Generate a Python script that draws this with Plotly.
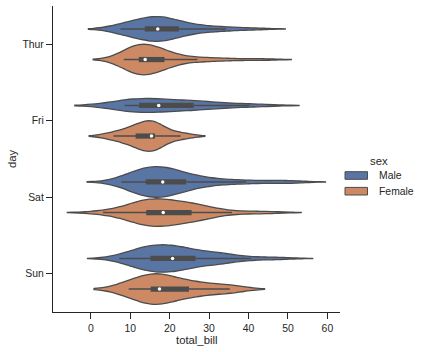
import numpy as np
import plotly.graph_objects as go

days = ["Thur", "Fri", "Sat", "Sun"]
sexes = ["Male", "Female"]

thur_male = [27.2, 22.76, 17.29, 19.44, 16.66, 32.68, 15.98, 13.03, 18.28, 24.71, 21.16,
             11.69, 14.26, 15.95, 8.52, 22.82, 19.08, 16.0, 34.3, 41.19, 9.78, 7.51,
             28.44, 15.48, 16.58, 7.56, 10.34, 13.51, 18.71, 20.53]
thur_female = [10.07, 34.83, 10.65, 12.43, 24.08, 13.42, 12.48, 29.8, 14.52, 11.38, 20.27,
               11.17, 12.26, 18.26, 8.51, 10.33, 14.15, 13.16, 17.47, 27.05, 16.43, 8.35,
               18.64, 11.87, 19.81, 43.11, 13.0, 12.74, 13.0, 16.4, 16.47, 18.78]
fri_male = [28.97, 22.49, 40.17, 27.28, 12.03, 21.01, 12.46, 12.16, 8.58, 13.42]
fri_female = [5.75, 16.32, 22.75, 11.35, 15.38, 13.42, 15.98, 16.27, 10.09]
sat_male = [20.65, 17.92, 39.42, 19.82, 17.81, 13.37, 12.69, 21.7, 9.55, 18.35, 17.78,
            24.06, 16.31, 18.69, 31.27, 16.04, 38.01, 11.24, 48.27, 20.29, 13.81, 11.02,
            18.29, 17.59, 20.08, 20.23, 15.01, 12.02, 10.51, 17.92, 15.36, 20.49, 25.21,
            18.24, 14.0, 50.81, 15.81, 26.59, 38.73, 24.27, 30.06, 25.89, 48.33, 28.15,
            11.59, 7.74, 20.45, 13.28, 24.01, 15.69, 11.61, 10.77, 15.53, 10.07, 12.6,
            32.83, 29.03, 22.67, 17.82]
sat_female = [20.29, 15.77, 19.65, 15.06, 20.69, 16.93, 26.41, 16.45, 3.07, 17.07, 26.86,
              25.28, 14.73, 44.3, 22.42, 20.92, 14.31, 7.25, 10.59, 10.63, 12.76, 13.27,
              28.17, 12.9, 30.14, 22.12, 35.83, 27.18]
sun_male = [10.34, 21.01, 23.68, 25.29, 8.77, 26.88, 15.04, 14.78, 10.27, 15.42, 18.43,
            21.58, 16.29, 17.46, 13.94, 9.68, 30.4, 18.29, 22.23, 32.4, 28.55, 18.04,
            12.54, 9.94, 25.56, 19.49, 38.07, 23.95, 29.93, 14.07, 13.13, 17.26, 24.55,
            19.77, 48.17, 16.49, 21.5, 12.66, 13.81, 24.52, 20.76, 31.71, 7.25, 31.85,
            16.82, 32.9, 17.89, 14.48, 34.63, 34.65, 23.33, 45.35, 23.17, 40.55, 20.69,
            30.46, 23.1, 15.69]
sun_female = [16.99, 24.59, 35.26, 14.83, 10.33, 16.97, 10.29, 34.81, 25.71, 17.31, 29.85,
              25.0, 13.39, 16.21, 17.51, 9.6, 20.9, 18.15]

data = {
    ("Thur", "Male"): thur_male, ("Thur", "Female"): thur_female,
    ("Fri", "Male"): fri_male, ("Fri", "Female"): fri_female,
    ("Sat", "Male"): sat_male, ("Sat", "Female"): sat_female,
    ("Sun", "Male"): sun_male, ("Sun", "Female"): sun_female,
}

fills = {"Male": "#5975a4", "Female": "#cc8963"}
edge = "#4c4c4c"
txt = "#262626"
font = "Liberation Sans, Arial, sans-serif"
offsets = {"Male": -0.2, "Female": 0.2}
full_width = 0.4


def scott_bw(obs):
    return obs.std(ddof=1) * len(obs) ** (-0.2)


def kde_peak(obs, bw):
    grid = np.linspace(obs.min() - 2 * bw, obs.max() + 2 * bw, 400)
    dens = np.exp(-0.5 * ((grid[:, None] - obs[None, :]) / bw) ** 2).sum(axis=1)
    dens /= len(obs) * bw * np.sqrt(2 * np.pi)
    return dens.max()


fig = go.Figure()

box_x, box_y, whis_x, whis_y, med_x, med_y = [], [], [], [], [], []
for di, day in enumerate(days):
    arrs = {s: np.asarray(data[(day, s)], dtype=float) for s in sexes}
    bws = {s: scott_bw(arrs[s]) for s in sexes}
    peaks = {s: kde_peak(arrs[s], bws[s]) for s in sexes}
    day_max = max(peaks.values())
    for sex in sexes:
        obs = arrs[sex]
        pos = di + offsets[sex]
        fig.add_trace(go.Violin(
            x=obs, y0=pos, orientation="h", width=full_width * peaks[sex] / day_max,
            scalegroup=f"{day}-{sex}", scalemode="width", spanmode="soft",
            bandwidth=bws[sex],
            side="both", points=False, box_visible=False, meanline_visible=False,
            fillcolor=fills[sex], line=dict(color=edge, width=1.3),
            opacity=1, showlegend=False, hoverinfo="skip", name=f"{day}-{sex}",
        ))
        q1, med, q3 = np.percentile(obs, [25, 50, 75])
        iqr = q3 - q1
        lo = obs[obs >= q1 - 1.5 * iqr].min()
        hi = obs[obs <= q3 + 1.5 * iqr].max()
        whis_x += [lo, hi, None]
        whis_y += [pos, pos, None]
        box_x += [q1, q3, None]
        box_y += [pos, pos, None]
        med_x.append(med)
        med_y.append(pos)

fig.add_trace(go.Scatter(x=whis_x, y=whis_y, mode="lines", line=dict(color=edge, width=1.6),
                         showlegend=False, hoverinfo="skip"))
fig.add_trace(go.Scatter(x=box_x, y=box_y, mode="lines", line=dict(color=edge, width=5.2),
                         showlegend=False, hoverinfo="skip"))
fig.add_trace(go.Scatter(x=med_x, y=med_y, mode="markers",
                         marker=dict(color="white", size=3.5, line=dict(width=0)),
                         showlegend=False, hoverinfo="skip"))

L, T, R, B = 53, 6, 340, 312
W, H = 422, 352


def px(xp):
    return (xp - L) / (R - L)


def py(yp):
    return (B - yp) / (B - T)


# axis titles
fig.add_annotation(x=0.5, y=py(340), xref="paper", yref="paper", text="total_bill",
                   showarrow=False, font=dict(family=font, size=11.3, color=txt),
                   xanchor="center", yanchor="middle")
fig.add_annotation(x=px(12), y=0.5, xref="paper", yref="paper", text="day",
                   showarrow=False, textangle=-90,
                   font=dict(family=font, size=11.3, color=txt),
                   xanchor="center", yanchor="middle")

# manual legend
fig.add_annotation(x=px(379), y=py(160.5), xref="paper", yref="paper", text="sex",
                   showarrow=False, font=dict(family=font, size=11.3, color=txt),
                   xanchor="center", yanchor="middle")
for i, sex in enumerate(sexes):
    yc = 175.5 + 15.7 * i
    fig.add_shape(type="rect", xref="paper", yref="paper",
                  x0=px(345), x1=px(367.5), y0=py(yc - 3.8), y1=py(yc + 3.8),
                  fillcolor=fills[sex], line=dict(color=edge, width=1))
    fig.add_annotation(x=px(377), y=py(yc), xref="paper", yref="paper", text=sex,
                       showarrow=False, font=dict(family=font, size=10.4, color=txt),
                       xanchor="left", yanchor="middle")

axis_common = dict(showline=True, linecolor=txt, linewidth=1.25, ticks="outside",
                   ticklen=6, tickwidth=1.25, tickcolor=txt, showgrid=False, zeroline=False,
                   tickfont=dict(family=font, size=10.4, color=txt))

fig.update_layout(
    width=W, height=H, margin=dict(l=L, r=W - R, t=T, b=H - B),
    paper_bgcolor="white", plot_bgcolor="white", violinmode="overlay",
    showlegend=False,
    xaxis=dict(range=[-9.6, 63.2], tickvals=[0, 10, 20, 30, 40, 50, 60], **axis_common),
    yaxis=dict(range=[3.5, -0.5], tickvals=list(range(len(days))), ticktext=days,
               **axis_common),
)

fig.write_html("out.html")
